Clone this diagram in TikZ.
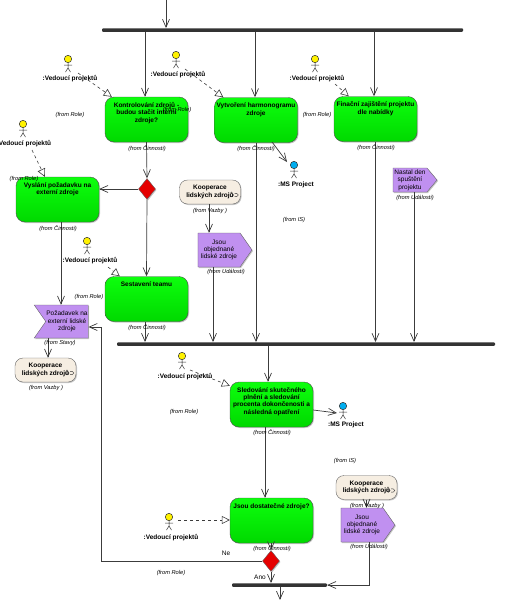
\documentclass[tikz,border=0pt]{standalone}
\usepackage{fontspec}
\setmainfont{Liberation Sans}
\usetikzlibrary{arrows.meta,shapes.geometric,shapes.symbols,shadows}
\definecolor{linegray}{RGB}{60,60,60}
\definecolor{evpurple}{RGB}{192,144,240}
\definecolor{kopbeige}{RGB}{246,238,226}
\begin{document}
\begin{tikzpicture}[x=1pt, y=-1pt,
    txt/.style = {font=\fontsize{6.5}{7.4}\selectfont},
    act/.style = {draw=black!70, rounded corners=9pt, minimum width=83pt, minimum height=45pt, inner sep=0pt,
      top color=green!95!white, bottom color=green!85!black, align=center, txt, font=\fontsize{6.5}{7.4}\selectfont\bfseries,
      drop shadow={shadow xshift=1pt, shadow yshift=-1pt, fill=black!45}},
    sig/.style = {draw=black!60, fill=evpurple, signal, inner sep=0pt, align=center, txt,
      drop shadow={shadow xshift=1pt, shadow yshift=-1pt, fill=black!45}},
    kop/.style = {draw=black!60, fill=kopbeige, rounded corners=8pt, minimum width=61pt, minimum height=24pt, inner sep=0pt,
      align=center, font=\fontsize{6.5}{7.4}\selectfont\bfseries,
      drop shadow={shadow xshift=1pt, shadow yshift=-1pt, fill=black!45}},
    rozh/.style = {draw=black!60, fill=red!90!black, diamond, aspect=0.8, minimum width=17pt, minimum height=21pt, inner sep=0pt,
      drop shadow={shadow xshift=1pt, shadow yshift=-1pt, fill=black!45}},
    forkbar/.style = {fill=black!80, rounded corners=1pt, minimum height=3.5pt, inner sep=0pt},
    who/.style = {font=\fontsize{6.5}{7.4}\selectfont\bfseries},
    from/.style = {font=\fontsize{5.7}{7}\selectfont\itshape},
    flow/.style = {draw=linegray, line width=.7pt, -{Straight Barb[length=8pt,width=7pt]}},
    dep/.style = {draw=linegray, line width=.6pt, dashed, -{Triangle[open,length=8pt,width=8pt,fill=white]}},
    actor/.pic = {
      \draw[black!80, line width=.5pt] (0,3.5) -- (0,9) (-4,6) -- (4,6) (-2.5,13) -- (0,9) -- (2.5,13);
      \draw[black!80, line width=.5pt, fill=#1] (0,0) circle (3.7pt);
    },
    spoj/.pic = {
      \draw[black!80, line width=.4pt] (-3,0) circle (1.8pt) (0,-1.6) -- (2,-1.6) arc (90:-90:1.6pt) -- (0,1.6);
    }]
    \useasboundingbox (0,0) rectangle (520,600);

    % bars
    \node[forkbar, minimum width=361pt] (bartop) at (282.5,30) {};
    \node[forkbar, minimum width=378pt] (barmid) at (306,344) {};
    \node[forkbar, minimum width=95pt] (barend) at (279.5,585) {};

    % activities
    \node[act] (kon) at (146.5,119.5) {Kontrolování zdrojů -\\budou stačit interní\\zdroje?\\~\\~};
    \node[act] (vyt) at (256,120) {Vytvoření harmonogramu\\zdroje\\~\\~\\~};
    \node[act] (fin) at (375.5,119) {Finační zajištění projektu\\dle nabídky\\~\\~\\~};
    \node[act] (vys) at (57.5,199.5) {Vyslání požadavku na\\externí zdroje\\~\\~\\~};
    \node[act] (ses) at (146.5,299) {Sestavení teamu\\~\\~\\~\\~};
    \node[act] (sle) at (271.5,404.5) {Sledování skutečného\\plnění a sledování\\procenta dokončenosti a\\následná opatření\\~};
    \node[act] (dos) at (271.5,520.5) {Jsou dostatečné zdroje?\\~\\~\\~\\~};

    % decisions
    \node[rozh] (dia1) at (147,189) {};
    \node[rozh] (dia2) at (271,561) {};

    % events and states
    \node[sig, signal to=east, signal pointer angle=110, minimum width=54pt, minimum height=34pt] (jso1) at (219,250) {Jsou\\objednané\\lidské zdroje};
    \node[sig, signal to=east, signal pointer angle=100, minimum width=44pt, minimum height=24pt] (nas) at (410,180) {Nastal den\\spuštění\\projektu};
    \node[sig, signal to=east, signal pointer angle=110, minimum width=54pt, minimum height=34pt] (jso2) at (362,525) {Jsou\\objednané\\lidské zdroje};
    \node[sig, signal to=nowhere, signal from=west, signal pointer angle=110, minimum width=54pt, minimum height=33pt] (sta) at (67,321.5) {Požadavek na\\externí lidské\\zdroje};

    % links
    \node[kop] (kop1) at (210,192) {Kooperace\\lidských zdrojů};
    \node[kop] (kop2) at (45.5,370) {Kooperace\\lidských zdrojů};
    \node[kop] (kop3) at (366.5,487.5) {Kooperace\\lidských zdrojů};
    \pic at ([xshift=-6pt,yshift=-3pt]kop1.east) {spoj};
    \pic at ([xshift=-6pt,yshift=-3pt]kop2.east) {spoj};
    \pic at ([xshift=-6pt,yshift=-3pt]kop3.east) {spoj};

    % flows
    \coordinate (vstup) at (166,0);
    \coordinate (vystup) at (280,600);
    \draw[flow] (vstup) -- (bartop.north -| vstup);
    \draw[flow] (bartop.south -| 145,0) -- (kon.north -| 145,0);
    \draw[flow] (bartop.south -| 255,0) -- (vyt.north -| 255,0);
    \draw[flow] (bartop.south -| 374,0) -- (fin.north -| 374,0);
    \draw[flow] (kon.south) -- (dia1.north);
    \draw[flow] (dia1.west) -- (vys.east |- dia1.west);
    \draw[flow] (dia1.south) -- (ses.north);
    \draw[flow] (vys.south -| 61,0) -- (sta.north -| 61,0);
    \draw[flow] (sta.south -| 48,0) -- (kop2.north -| 48,0);
    \draw[flow] (kop1.south -| 209,0) -- (jso1.north -| 209,0);
    \draw[flow] (jso1.south -| 213,0) -- (barmid.north -| 213,0);
    \draw[flow] (ses.south -| 145,0) -- (barmid.north -| 145,0);
    \draw[flow] (vyt.south) -- (barmid.north -| vyt.south);
    \draw[flow] (fin.south) -- (barmid.north -| fin.south);
    \draw[flow] (nas.south -| 414,0) -- (barmid.north -| 414,0);
    \draw[flow] (barmid.south -| 268,0) -- (sle.north -| 268,0);
    \draw[flow] (sle.south -| 265,0) -- (dos.north -| 265,0);
    \draw[flow] (dos.south -| dia2.north) -- (dia2.north);
    \draw[flow] (dia2.south) -- (barend.north -| dia2.south);
    \draw[flow] (kop3.south) -- (jso2.north -| kop3.south);
    \draw[flow] (jso2.south -| 369,0) |- (barend.east);
    \draw[flow] (barend.south -| vystup) -- (vystup);
    \draw[flow] (dia2.west) -| ([xshift=13pt,yshift=-5.5pt]sta.east) -- ([yshift=-5.5pt]sta.east);
    \draw[flow] (272,142) -- (287,162);
    \draw[flow] (sle.east |- 0,410) -- (337,413);

    % actors
    \pic at (68,59) {actor=yellow};
    \pic at (176,55) {actor=yellow};
    \pic at (315,59) {actor=yellow};
    \pic at (23,124) {actor=yellow};
    \pic at (87,241) {actor=yellow};
    \pic at (182,356) {actor=yellow};
    \pic at (169,517) {actor=yellow};
    \pic at (294,165) {actor=cyan};
    \pic at (343,406) {actor=cyan};
    \node[who] (ved1) at (70,79) {:Vedoucí projektů};
    \node[who] (ved2) at (178,75) {:Vedoucí projektů};
    \node[who] (ved3) at (317,79) {:Vedoucí projektů};
    \node[who] (ved4) at (25,144) {Vedoucí projektů};
    \node[who] (ved5) at (90,261) {:Vedoucí projektů};
    \node[who] (ved6) at (185,377) {:Vedoucí projektů};
    \node[who] (ved7) at (171,538) {:Vedoucí projektů};
    \node[who] (ms1) at (296,185) {:MS Project};
    \node[who] (ms2) at (346,425) {:MS Project};

    % dependencies
    \coordinate (dep1) at (78,73);
    \coordinate (dep2) at (185,69);
    \coordinate (dep3) at (335,84);
    \coordinate (dep4) at (32,150);
    \coordinate (dep5) at (108,267);
    \coordinate (dep6) at (190,370);
    \coordinate (dep7) at (178,520);
    \draw[dep] (dep1) -- ([xshift=7pt]kon.north west);
    \draw[dep] (dep2) -- ([xshift=9pt]vyt.north west);
    \draw[dep] (dep3) -- ([xshift=15pt]fin.north west);
    \draw[dep] (dep4) -- ([xshift=29pt]vys.north west);
    \draw[dep] (dep5) -- ([xshift=15pt]ses.north west);
    \draw[dep] (dep6) -- ([yshift=-4pt]sle.north west);
    \draw[dep] (dep7) -- (dos.west |- dep7);

    % from labels
    \node[from] (f1) at (70,115) {(from Role)};
    \node[from] (f2) at (177,110) {(from Role)};
    \node[from] (f3) at (317,115) {(from Role)};
    \node[from] (f4) at (24,179) {(from Role)};
    \node[from] (f5) at (89,297) {(from Role)};
    \node[from] (f6) at (184,412) {(from Role)};
    \node[from] (f7) at (171,573) {(from Role)};
    \node[from] (f8) at (147,149) {(from Činnosti)};
    \node[from] (f9) at (256,149) {(from Činnosti)};
    \node[from] (f10) at (376,148) {(from Činnosti)};
    \node[from] (f11) at (58,229) {(from Činnosti)};
    \node[from] (f12) at (147,328) {(from Činnosti)};
    \node[from] (f13) at (272,433) {(from Činnosti)};
    \node[from] (f14) at (272,549) {(from Činnosti)};
    \node[from] (f15) at (210,211) {(from Vazby )};
    \node[from] (f16) at (46,388) {(from Vazby )};
    \node[from] (f17) at (367,506) {(from Vazby )};
    \node[from] (f18) at (226,272) {(from Události)};
    \node[from] (f19) at (415,198) {(from Události)};
    \node[from] (f20) at (369,547) {(from Události)};
    \node[from] (f21) at (60,343) {(from Stavy)};
    \node[from] (f22) at (294,220) {(from IS)};
    \node[from] (f23) at (345,461) {(from IS)};

    \node[txt] (ne) at (226,553) {Ne};
    \node[txt] (ano) at (260,577) {Ano};
  \end{tikzpicture}
\end{document}
